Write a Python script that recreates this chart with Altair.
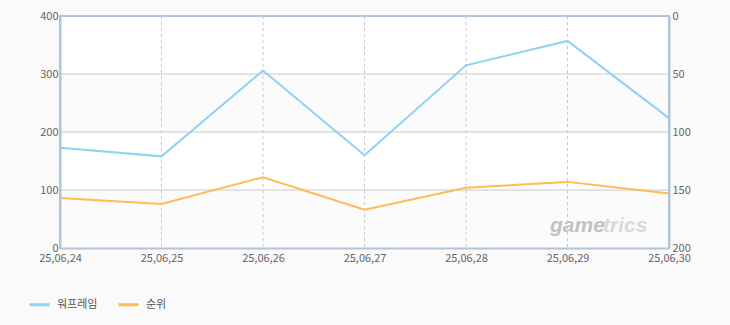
import altair as alt
import pandas as pd

dates = ["25,06,24", "25,06,25", "25,06,26", "25,06,27", "25,06,28", "25,06,29", "25,06,30"]
warframe = [173, 158, 306, 160, 315, 357, 224]
rank = [157, 162, 139, 167, 148, 143, 153]
series_names = ["워프레임", "순위"]
colors = ["#8fd2f3", "#ffbb55"]
left_ticks = [0, 100, 200, 300, 400]
right_ticks = [0, 50, 100, 150, 200]
grid_values = [100, 200, 300]
band_lo = [200, 0]
band_hi = [300, 100]

FONT = "Noto Sans CJK KR"
AXIS_COLOR = "#b3c4d6"
GRID = "#c8c8c8"

df_w = pd.DataFrame({"date": dates, "value": warframe, "series": series_names[0]})
df_r = pd.DataFrame({"date": dates, "value": rank, "series": series_names[1]})
df_band = pd.DataFrame({"lo": band_lo, "hi": band_hi})
df_hgrid = pd.DataFrame({"v": grid_values})
df_vgrid = pd.DataFrame({"date": dates})

xscale = alt.Scale(type="point", padding=0, domain=dates)
xaxis = alt.Axis(title=None, labelAngle=0, grid=False, ticks=False, labelPadding=4,
                 domainColor=AXIS_COLOR, domainWidth=2, zindex=1,
                 labelColor="#666666", labelFont=FONT, labelFontSize=11)
xenc = alt.X("date:O", sort=dates, scale=xscale, axis=xaxis)

color = alt.Color("series:N", sort=series_names,
                  scale=alt.Scale(domain=series_names, range=colors),
                  legend=alt.Legend(title=None, orient="none", legendX=-32, legendY=277,
                                    direction="horizontal", symbolType="stroke",
                                    symbolStrokeWidth=3, symbolSize=400,
                                    labelFont=FONT, labelFontSize=11, labelColor="#555555",
                                    columnPadding=14, padding=0, labelOffset=6))

yleft_scale = alt.Scale(domain=[0, 400], nice=False)
yleft_axis = alt.Axis(title=None, orient="left", values=left_ticks, grid=False,
                      ticks=False, labelPadding=2, zindex=1,
                      domainColor=AXIS_COLOR, domainWidth=2,
                      labelColor="#666666", labelFont=FONT, labelFontSize=11)

bands = alt.Chart(df_band).mark_rect(fill="#fbfbfb").encode(
    y=alt.Y("lo:Q", scale=yleft_scale, axis=yleft_axis),
    y2="hi:Q",
    x=alt.value(1), x2=alt.value(608),
)

hgrid = alt.Chart(df_hgrid).mark_rule(color=GRID, strokeWidth=1).encode(
    y=alt.Y("v:Q", scale=yleft_scale, axis=yleft_axis),
)

vgrid = alt.Chart(df_vgrid).mark_rule(color=GRID, strokeWidth=1, strokeDash=[3, 3]).encode(
    x=xenc,
)

left = alt.Chart(df_w).mark_line(strokeWidth=2).encode(
    x=xenc,
    y=alt.Y("value:Q", scale=yleft_scale, axis=yleft_axis),
    color=color,
)

left_layer = alt.layer(bands, hgrid, vgrid, left)

right = alt.Chart(df_r).mark_line(strokeWidth=2).encode(
    x=xenc,
    y=alt.Y("value:Q", scale=alt.Scale(domain=[0, 200], reverse=True, nice=False),
            axis=alt.Axis(title=None, orient="right", values=right_ticks, grid=False,
                          ticks=False, labelPadding=3, zindex=1,
                          domainColor=AXIS_COLOR, domainWidth=2,
                          labelColor="#666666", labelFont=FONT, labelFontSize=11)),
    color=color,
)

wm1 = alt.Chart(pd.DataFrame({"t": ["game"]})).mark_text(
    font="Liberation Sans", fontSize=21, fontStyle="italic", fontWeight="bold",
    color="#c2c2c2", align="left", baseline="alphabetic").encode(
    text="t:N", x=alt.value(490), y=alt.value(216))
wm2 = alt.Chart(pd.DataFrame({"t": ["trics"]})).mark_text(
    font="Liberation Sans", fontSize=21, fontStyle="italic", fontWeight="bold",
    color="#dadada", align="left", baseline="alphabetic").encode(
    text="t:N", x=alt.value(543), y=alt.value(216))

chart = alt.layer(left_layer, right, wm1, wm2).resolve_scale(y="independent").properties(
    width=609, height=232,
    background="#fafafa",
    autosize=alt.AutoSizeParams(type="none"),
    padding={"left": 60, "top": 16, "right": 61, "bottom": 77},
).configure_view(fill="white", stroke=AXIS_COLOR, strokeWidth=2)

chart.save("out.html", embed_options={"renderer": "svg", "actions": False})
